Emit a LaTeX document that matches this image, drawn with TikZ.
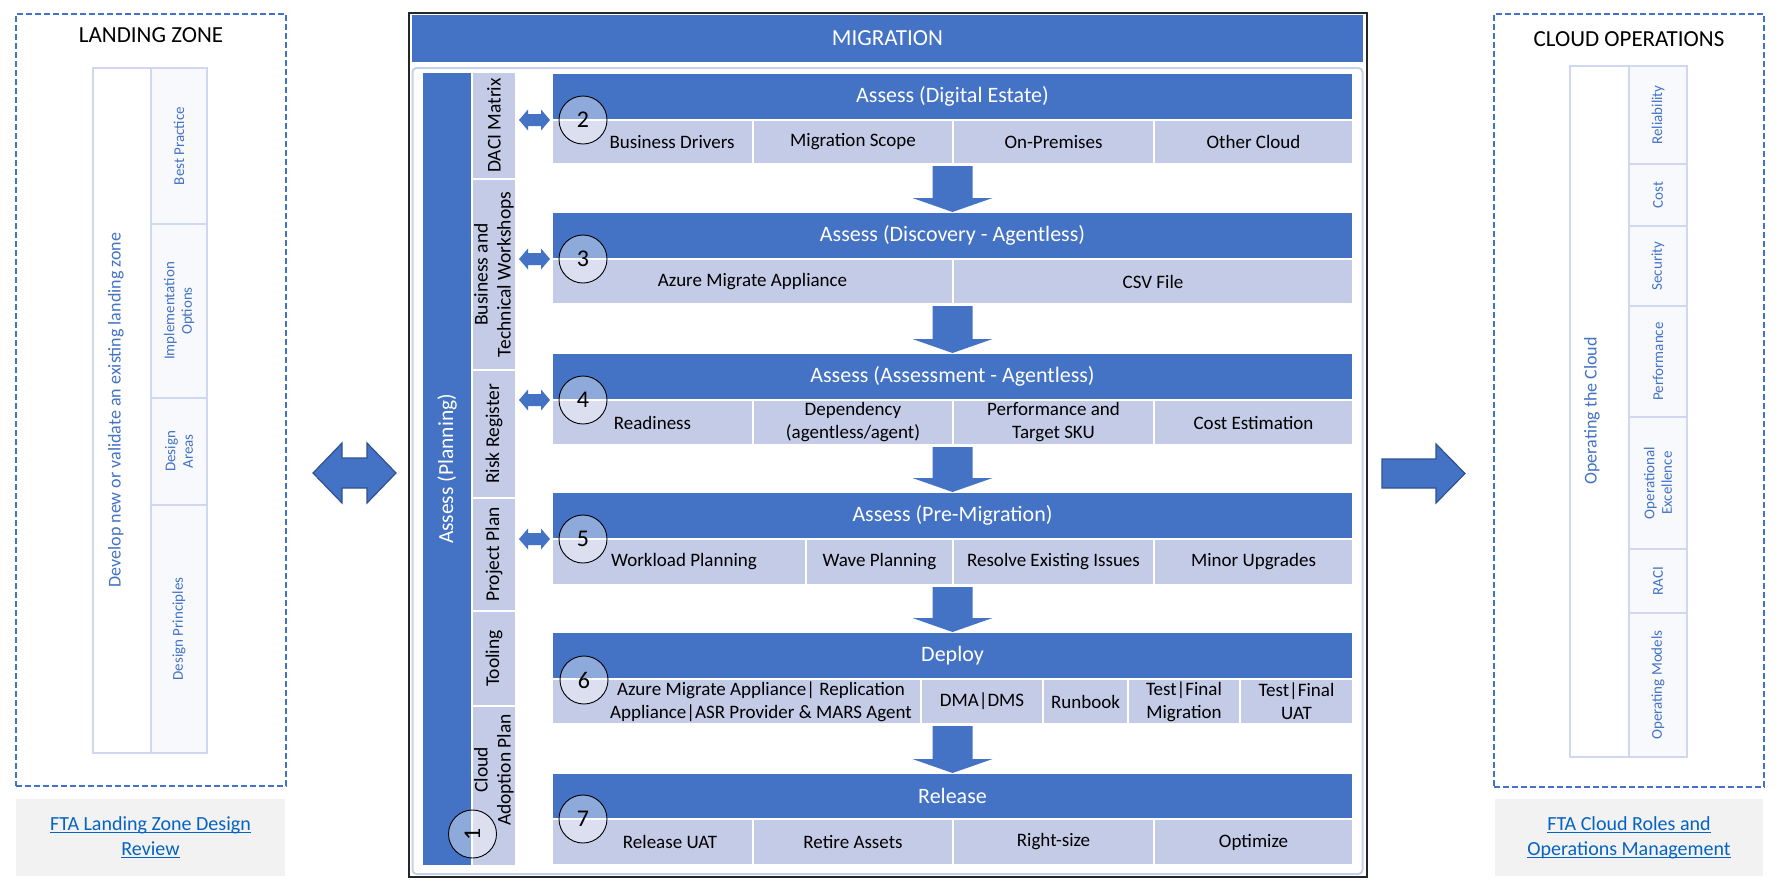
\documentclass[tikz,border=0pt]{standalone}
\usepackage{fontspec}
\setmainfont{Carlito}
\usetikzlibrary{calc}
\definecolor{mblue}{HTML}{4472C4}
\definecolor{dblue}{HTML}{2F528F}
\definecolor{lcell}{HTML}{C3CBE6}
\definecolor{pborder}{HTML}{D0D7EE}
\definecolor{pfill}{HTML}{F8F9FD}
\definecolor{lnkc}{HTML}{0563C1}
\definecolor{gbox}{HTML}{F2F2F2}
\definecolor{ibox}{HTML}{C5D0EA}
\newcommand\fs[2]{\fontsize{#1}{#2}\selectfont}
\newcommand\lnk[1]{\setbox0\hbox{#1}\rlap{\rule[-2.8pt]{\wd0}{1.3pt}}\box0}
\newcommand\cellat[7]{\node[#6,anchor=north west,minimum width={(#4-#2)*1pt},minimum height={(#5-#3)*1pt}] (#1) at (#2,#3) {#7};}
\newcommand\mkdblarrow[6]{\path[#1] (#2) -- ($(#2)+(#4,-#5)$) -- ($(#2)+(#4,-#6)$) -- ($(#3)+(-#4,-#6)$) -- ($(#3)+(-#4,-#5)$) -- (#3) -- ($(#3)+(-#4,#5)$) -- ($(#3)+(-#4,#6)$) -- ($(#2)+(#4,#6)$) -- ($(#2)+(#4,#5)$) -- cycle;}
\newcommand\stagearrow[2]{\fill[mblue] ($(#2.north |- #1.south)+(-20,2)$) -- ($(#2.north)+(-20,-14)$) -- ($(#2.north)+(-40,-14)$) -- (#2.north) -- ($(#2.north)+(40,-14)$) -- ($(#2.north)+(20,-14)$) -- ($(#2.north |- #1.south)+(20,2)$) -- cycle;}
\begin{document}
\begin{tikzpicture}[x=1pt,y=-1pt,inner sep=0pt,outer sep=0pt,
  hdr/.style={fill=mblue,draw=white,line width=1.2pt,text=white,font=\fs{22}{26}},
  sc/.style={fill=lcell,draw=white,line width=1.5pt,text=black,font=\fs{19}{23},align=center},
  stx/.style={text=black,font=\fs{19}{23},align=center},
  lc/.style={fill=lcell,draw=white,line width=2.5pt},
  lctx/.style={rotate=90,text=black,font=\fs{19.5}{23},align=center},
  numc/.style={circle,draw=black,line width=0.9pt,fill=white,fill opacity=0.4,text opacity=1,minimum size=48pt,font=\fs{24}{28}},
  pl/.style={fill=white,draw=pborder,line width=1.5pt},
  pr/.style={fill=pfill,draw=pborder,line width=1.5pt},
  ptx/.style={rotate=90,text=mblue,font=\fs{15}{17.5},align=center},
  dashbox/.style={draw=mblue,line width=1.2pt,dash pattern=on 6pt off 3pt},
  ttl/.style={text=black,font=\fs{23}{27}},
  linktx/.style={text=lnkc,font=\fs{20}{25},align=center},
  bigarrow/.style={fill=mblue,draw=dblue,line width=1.2pt},
  sarrow/.style={fill=mblue}]
\useasboundingbox (0,0) rectangle (1777,892);
\fill[white] (0,0) rectangle (1777,892);

% ---------- Landing zone ----------
\cellat{lz}{16}{14}{286}{786}{dashbox}{}
\node[ttl] (lztitle) at (151,35) {LANDING ZONE};
\cellat{lzmain}{93}{68}{151}{753}{pl}{}
\node[rotate=90,text=mblue,font=\fs{18}{22}] (lzmaintxt) at (116,410) {Develop new or validate an existing landing zone};
\cellat{lzbp}{151}{68}{207}{224}{pr}{}
\node[ptx] (lzbpt) at (lzbp.center) {Best Practice};
\cellat{lzio}{151}{224}{207}{398}{pr}{}
\node[ptx] (lziot) at (lzio.center) {Implementation\\Options};
\cellat{lzda}{151}{398}{207}{505}{pr}{}
\node[ptx] (lzdat) at (lzda.center) {Design\\Areas};
\cellat{lzdp}{151}{505}{207}{753}{pr}{}
\node[ptx] (lzdpt) at (lzdp.center) {Design Principles};
\cellat{lzlink}{16}{799}{285}{876}{fill=gbox}{}
\node[linktx] (lzlinkt) at (lzlink.center) {\lnk{FTA Landing Zone Design}\\\lnk{Review}};

% ---------- Cloud operations ----------
\cellat{co}{1494}{14}{1764}{787}{dashbox}{}
\node[ttl] (cotitle) at (1629,39.5) {CLOUD OPERATIONS};
\cellat{comain}{1570}{66}{1629}{757}{pl}{}
\node[rotate=90,text=mblue,font=\fs{18}{22}] (comaintxt) at (1592,411) {Operating the Cloud};
\cellat{cor}{1629}{66}{1687}{164}{pr}{}
\node[ptx] (cort) at (cor.center) {Reliability};
\cellat{coc}{1629}{164}{1687}{226}{pr}{}
\node[ptx] (coct) at (coc.center) {Cost};
\cellat{cos}{1629}{226}{1687}{306}{pr}{}
\node[ptx] (cost) at (cos.center) {Security};
\cellat{cop}{1629}{306}{1687}{417}{pr}{}
\node[ptx] (copt) at (cop.center) {Performance};
\cellat{coe}{1629}{417}{1687}{549}{pr}{}
\node[ptx] (coet) at (coe.center) {Operational\\Excellence};
\cellat{cora}{1629}{549}{1687}{613}{pr}{}
\node[ptx] (corat) at (cora.center) {RACI};
\cellat{com}{1629}{613}{1687}{757}{pr}{}
\node[ptx] (comt) at (com.center) {Operating Models};
\cellat{colink}{1495}{799}{1763}{876}{fill=gbox}{}
\node[linktx] (colinkt) at (colink.center) {\lnk{FTA Cloud Roles and}\\\lnk{Operations Management}};

% ---------- big arrows ----------
\coordinate (bl) at (313,473);
\coordinate (br) at (396,473);
\mkdblarrow{bigarrow}{bl}{br}{29}{30}{15}
\coordinate (ral) at (1382,473.5);
\coordinate (rar) at (1465,473.5);
\path[bigarrow] ($(ral)+(0,-14.5)$) -- ($(rar)+(-29,-14.5)$) -- ($(rar)+(-29,-29.5)$) -- (rar) -- ($(rar)+(-29,29.5)$) -- ($(rar)+(-29,14.5)$) -- ($(ral)+(0,14.5)$) -- cycle;

% ---------- Migration ----------
\cellat{migouter}{409}{13}{1367}{877}{draw=black!85,line width=1.3pt}{}
\cellat{mighdr}{412}{15}{1363}{62}{fill=mblue,text=white,font=\fs{23}{27}}{MIGRATION}
\cellat{miginner}{412.5}{68}{1362.5}{874}{draw=ibox,line width=2pt,rounded corners=4pt}{}

\cellat{plan}{423}{73}{471}{865}{fill=mblue}{}
\node[rotate=90,text=white,font=\fs{21.5}{25}] (plant) at (plan.center) {Assess (Planning)};
\cellat{daci}{472}{72}{516}{179}{lc}{}
\node[lctx] (dacit) at (daci.center) {DACI Matrix};
\cellat{btw}{472}{179}{516}{370}{lc}{}
\node[lctx] (btwt) at (btw.center) {Business and\\Technical Workshops};
\cellat{risk}{472}{370}{516}{498}{lc}{}
\node[lctx] (riskt) at (risk.center) {Risk Register};
\cellat{pp}{472}{498}{516}{611}{lc}{}
\node[lctx] (ppt) at (pp.center) {Project Plan};
\cellat{tool}{472}{611}{516}{706}{lc}{}
\node[lctx] (toolt) at (tool.center) {Tooling};
\cellat{cap}{472}{706}{516}{866}{lc}{}
\node[lctx] (capt) at (494,770) {Cloud\\Adoption Plan};

% stage 2
\cellat{h2}{552}{73}{1353}{120}{hdr}{Assess (Digital Estate)}
\cellat{s2a}{552}{120}{753}{164}{sc}{}
\cellat{s2b}{753}{120}{953}{164}{sc}{Migration Scope}
\cellat{s2c}{953}{120}{1154}{164}{sc}{On-Premises}
\cellat{s2d}{1154}{120}{1353}{164}{sc}{Other Cloud}
\node[stx] (s2at) at (672,142) {Business Drivers};
% stage 3
\cellat{h3}{552}{212}{1353}{259}{hdr}{Assess (Discovery - Agentless)}
\cellat{s3a}{552}{259}{953}{304}{sc}{Azure Migrate Appliance}
\cellat{s3b}{953}{259}{1353}{304}{sc}{CSV File}
% stage 4
\cellat{h4}{552}{353}{1353}{400}{hdr}{Assess (Assessment - Agentless)}
\cellat{s4a}{552}{400}{753}{445}{sc}{Readiness}
\cellat{s4b}{753}{400}{953}{445}{sc}{Dependency\\(agentless/agent)}
\cellat{s4c}{953}{400}{1154}{445}{sc}{Performance and\\Target SKU}
\cellat{s4d}{1154}{400}{1353}{445}{sc}{Cost Estimation}
% stage 5
\cellat{h5}{552}{492}{1353}{539}{hdr}{Assess (Pre-Migration)}
\cellat{s5a}{552}{539}{806}{585}{sc}{}
\cellat{s5b}{806}{539}{953}{585}{sc}{Wave Planning}
\cellat{s5c}{953}{539}{1154}{585}{sc}{Resolve Existing Issues}
\cellat{s5d}{1154}{539}{1353}{585}{sc}{Minor Upgrades}
\node[stx] (s5at) at (684,562) {Workload Planning};
% stage 6
\cellat{h6}{552}{632}{1353}{679}{hdr}{Deploy}
\cellat{s6a}{552}{679}{921}{724}{sc}{}
\cellat{s6b}{921}{679}{1043}{724}{sc}{DMA|DMS}
\cellat{s6c}{1043}{679}{1128}{724}{sc}{Runbook}
\cellat{s6d}{1128}{679}{1240}{724}{sc}{Test|Final\\Migration}
\cellat{s6e}{1240}{679}{1353}{724}{sc}{Test|Final\\UAT}
\node[stx] (s6at) at (761,702) {Azure Migrate Appliance| Replication\\Appliance|ASR Provider \& MARS Agent};
% stage 7
\cellat{h7}{552}{773}{1353}{819}{hdr}{Release}
\cellat{s7a}{552}{819}{753}{865}{sc}{}
\cellat{s7b}{753}{819}{953}{865}{sc}{Retire Assets}
\cellat{s7c}{953}{819}{1154}{865}{sc}{Right-size}
\cellat{s7d}{1154}{819}{1353}{865}{sc}{Optimize}
\node[stx] (s7at) at (670,842) {Release UAT};

% down arrows between stages
\stagearrow{s2a}{h3}
\stagearrow{s3a}{h4}
\stagearrow{s4a}{h5}
\stagearrow{s5a}{h6}
\stagearrow{s6a}{h7}

% number circles
\node[numc] (c1) at (472.5,834) {\rotatebox{90}{1}};
\node[numc] (c2) at (583,120) {2};
\node[numc] (c3) at (583,259) {3};
\node[numc] (c4) at (583,400) {4};
\node[numc] (c5) at (583,539) {5};
\node[numc] (c6) at (584,680) {6};
\node[numc] (c7) at (583,819) {7};

% small double arrows
\coordinate (d2l) at ($(daci.east |- c2.center)+(3,0)$);
\coordinate (d2r) at ($(h2.west |- c2.center)+(-2,0)$);
\mkdblarrow{sarrow}{d2l}{d2r}{9}{10.5}{6}
\coordinate (d3l) at ($(btw.east |- c3.center)+(3,0)$);
\coordinate (d3r) at ($(h3.west |- c3.center)+(-2,0)$);
\mkdblarrow{sarrow}{d3l}{d3r}{9}{10.5}{6}
\coordinate (d4l) at ($(risk.east |- c4.center)+(3,0)$);
\coordinate (d4r) at ($(h4.west |- c4.center)+(-2,0)$);
\mkdblarrow{sarrow}{d4l}{d4r}{9}{10.5}{6}
\coordinate (d5l) at ($(pp.east |- c5.center)+(3,0)$);
\coordinate (d5r) at ($(h5.west |- c5.center)+(-2,0)$);
\mkdblarrow{sarrow}{d5l}{d5r}{9}{10.5}{6}
\end{tikzpicture}
\end{document}
